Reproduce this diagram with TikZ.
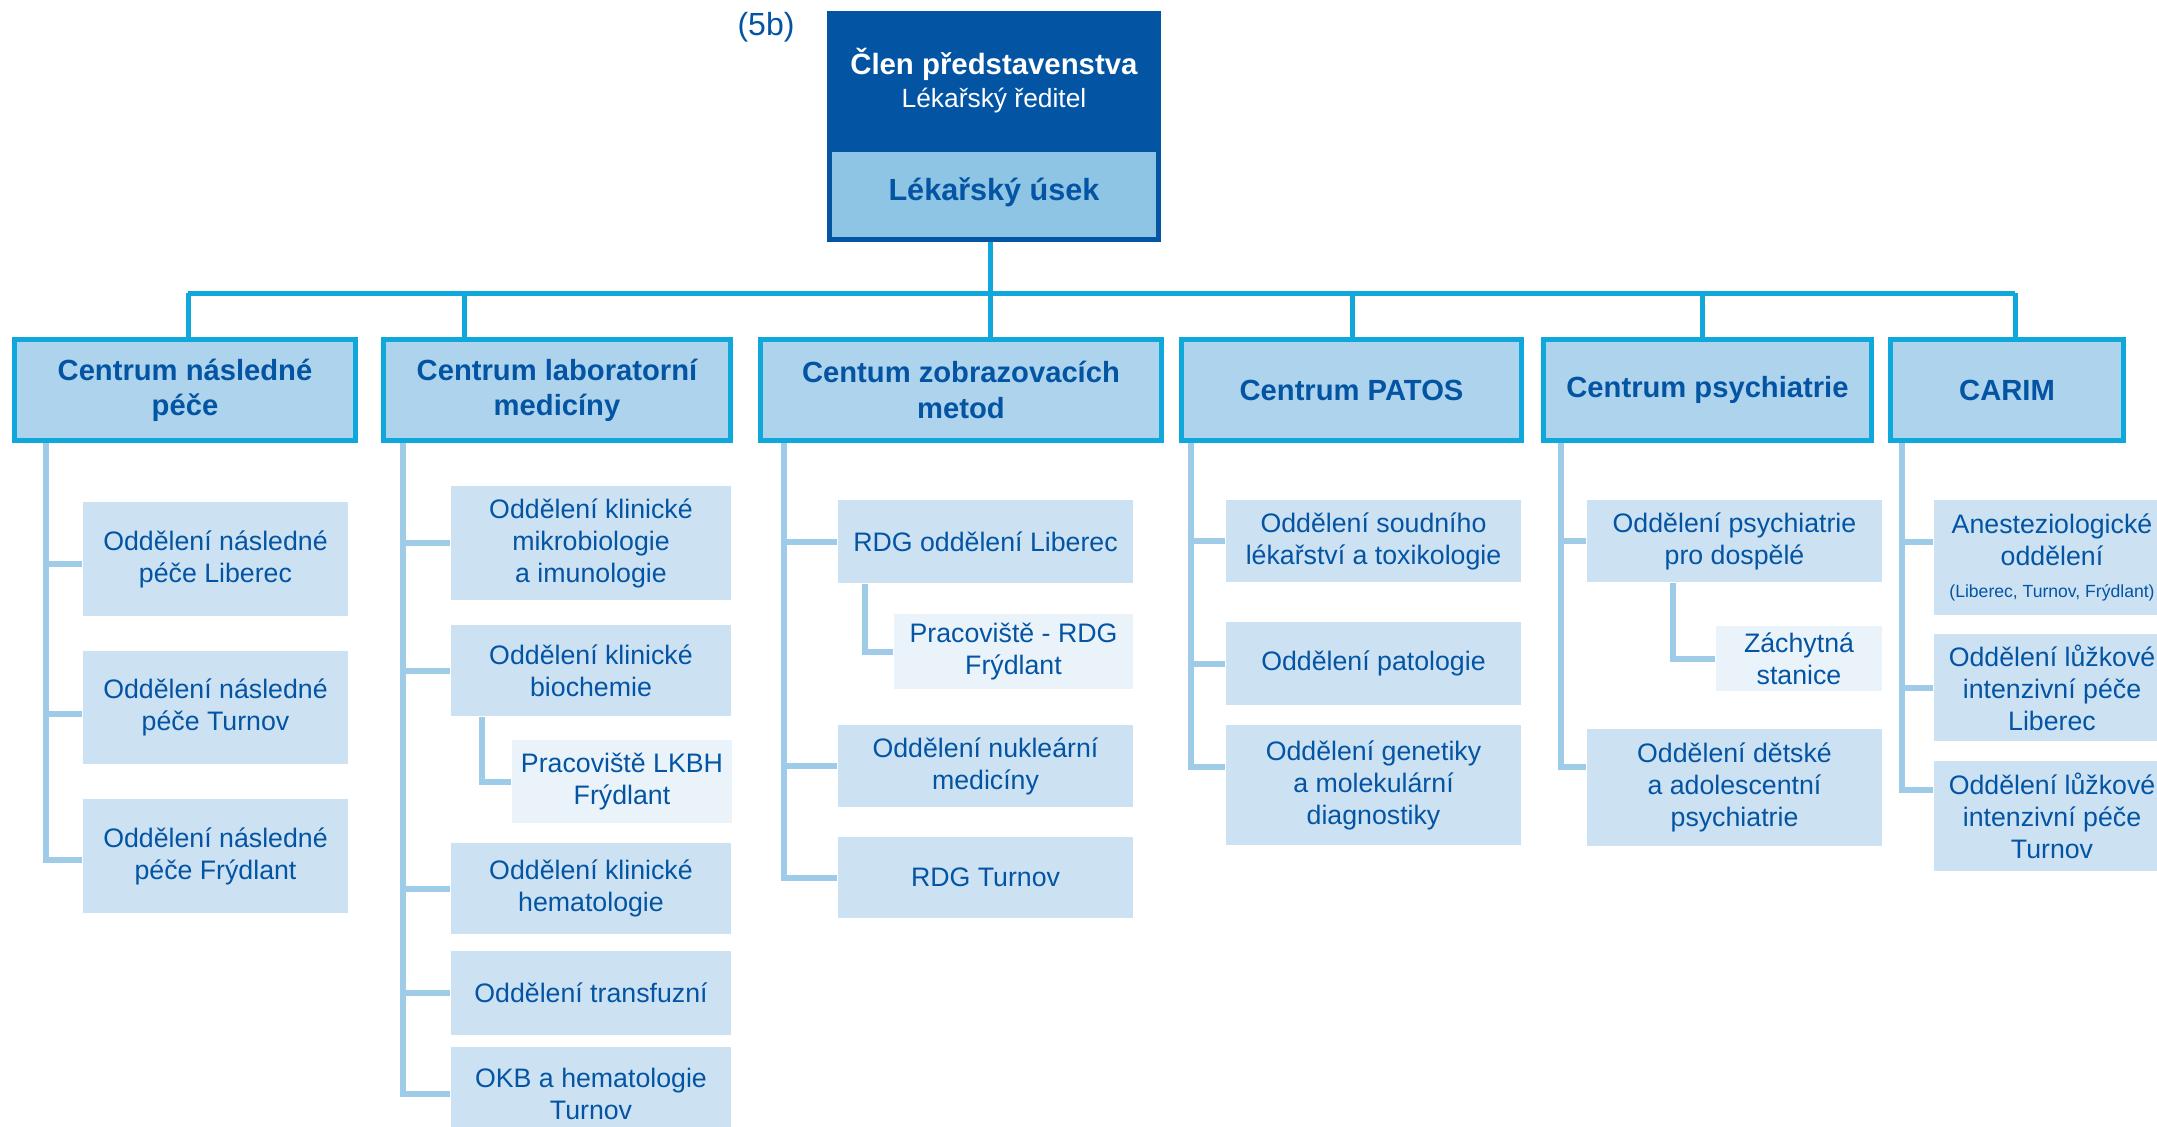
\documentclass[tikz,border=0pt]{standalone}
\usepackage{fontspec}
\setmainfont{Liberation Sans}
\usetikzlibrary{positioning,calc}
\definecolor{lkblue}{RGB}{4,84,164}
\definecolor{lkcyan}{RGB}{16,168,218}
\definecolor{lkhead}{RGB}{173,212,236}
\definecolor{lkusek}{RGB}{142,196,228}
\definecolor{lkdept}{RGB}{204,226,242}
\definecolor{lksub}{RGB}{234,243,250}
\definecolor{lkline}{RGB}{157,203,232}

\begin{document}
\begin{tikzpicture}[x=0.01cm, y=-0.01cm,
    board/.style={fill=lkblue, inner sep=0pt, align=center, text=white, minimum width=3.34cm, minimum height=1.39cm},
    usek/.style={draw=lkblue, line width=0.05cm, fill=lkusek, inner sep=0pt, text=lkblue, font=\fontsize{8.7}{10}\selectfont\bfseries, minimum width=3.29cm, minimum height=0.90cm},
    centre/.style={draw=lkcyan, line width=0.05cm, fill=lkhead, inner sep=0pt, align=center, text=lkblue, font=\fontsize{8.3}{10}\selectfont\bfseries, minimum height=1.01cm},
    dept/.style={fill=lkdept, inner sep=0pt, align=center, text=lkblue, font=\fontsize{7.6}{9.1}\selectfont},
    subdept/.style={dept, fill=lksub},
    bus/.style={draw=lkcyan, line width=0.05cm},
    branch/.style={draw=lkline, line width=0.06cm}
]
\path[use as bounding box, clip] (0,0) rectangle (2157,1126);

% TOP
\node[text=lkblue, font=\fontsize{9.1}{11}\selectfont] (tag) at (766,27) {(5b)};
\node[board, font=\fontsize{8.35}{9.4}\selectfont] (clen) at (994,80.5) {\textbf{Člen představenstva}\\{\fontsize{7.5}{9.4}\selectfont Lékařský ředitel}};
\node[usek] (lus) at (994,194.5) {\raisebox{3pt}{Lékařský úsek}};

% CENTRES
\node[centre, minimum width=3.41cm] (nasl) at (185,390) {Centrum následné\\péče};
\node[centre, minimum width=3.47cm] (lab) at (557,390) {Centrum laboratorní\\medicíny};
\node[centre, minimum width=4.01cm] (zobr) at (961,390) {Centum zobrazovacích\\metod};
\node[centre, minimum width=3.40cm] (patos) at (1351.5,390) {Centrum PATOS};
\node[centre, minimum width=3.28cm] (psy) at (1707.5,390) {Centrum psychiatrie};
\node[centre, minimum width=2.33cm] (carim) at (2007,390) {CARIM};

% bus
\coordinate (b1) at (188,293);
\coordinate (b2) at (464,293);
\coordinate (b3) at (990,293);
\coordinate (b4) at (1352,293);
\coordinate (b5) at (1702,293);
\coordinate (b6) at (2015,293);
\draw[bus] (lus.south -| b3) -- (b3);
\draw[bus] (b1) -- (b6);
\draw[bus] (b1) -- (b1 |- nasl.north);
\draw[bus] (b2) -- (b2 |- lab.north);
\draw[bus] (b3) -- (b3 |- zobr.north);
\draw[bus] (b4) -- (b4 |- patos.north);
\draw[bus] (b5) -- (b5 |- psy.north);
\draw[bus] (b6) -- (b6 |- carim.north);

% NASLEDNA PECE
\node[dept, minimum width=2.65cm, minimum height=1.14cm] (nl) at (215.5,559) {Oddělení následné\\péče Liberec};
\node[dept, minimum width=2.65cm, minimum height=1.13cm] (nt) at (215.5,707.5) {Oddělení následné\\péče Turnov};
\node[dept, minimum width=2.65cm, minimum height=1.14cm] (nf) at (215.5,856) {Oddělení následné\\péče Frýdlant};
\draw[branch] ([xshift=0.34cm]nasl.south west) |- ([yshift=-0.05cm]nl.west);
\draw[branch] ([xshift=0.34cm]nasl.south west) |- ([yshift=-0.06cm]nt.west);
\draw[branch] ([xshift=0.34cm]nasl.south west) |- ([yshift=-0.04cm]nf.west);

% LABORATORNI MEDICINA
\node[dept, minimum width=2.80cm, minimum height=1.14cm] (mik) at (591,543) {Oddělení klinické\\mikrobiologie\\a imunologie};
\node[dept, minimum width=2.80cm, minimum height=0.91cm] (bio) at (591,670.5) {Oddělení klinické\\biochemie};
\node[subdept, minimum width=2.20cm, minimum height=0.83cm] (lkbh) at (622,781.5) {Pracoviště LKBH\\Frýdlant};
\node[dept, minimum width=2.80cm, minimum height=0.91cm] (hem) at (591,888.5) {Oddělení klinické\\hematologie};
\node[dept, minimum width=2.80cm, minimum height=0.84cm] (tra) at (591,993) {Oddělení transfuzní};
\node[dept, minimum width=2.80cm, minimum height=0.93cm] (okb) at (591,1093.5) {OKB a hematologie\\Turnov};
\foreach \d in {mik,bio,hem,tra,okb}
  \draw[branch] ([xshift=0.22cm]lab.south west) |- (\d.west);
\draw[branch] ([xshift=0.32cm]bio.south west) |- (lkbh.west);

% ZOBRAZOVACI METODY
\node[dept, minimum width=2.95cm, minimum height=0.83cm] (rdgl) at (985.5,541.5) {RDG oddělení Liberec};
\node[subdept, minimum width=2.39cm, minimum height=0.75cm] (rdgf) at (1013.5,651.5) {Pracoviště - RDG\\Frýdlant};
\node[dept, minimum width=2.95cm, minimum height=0.82cm] (nuk) at (985.5,766) {Oddělení nukleární\\medicíny};
\node[dept, minimum width=2.95cm, minimum height=0.81cm] (rdgt) at (985.5,877.5) {RDG Turnov};
\foreach \d in {rdgl,nuk,rdgt}
  \draw[branch] ([xshift=0.26cm]zobr.south west) |- (\d.west);
\draw[branch] ([xshift=0.28cm]rdgl.south west) |- (rdgf.west);

% PATOS
\node[dept, minimum width=2.95cm, minimum height=0.82cm] (sou) at (1373.5,541) {Oddělení soudního\\lékařství a toxikologie};
\node[dept, minimum width=2.95cm, minimum height=0.83cm] (pat) at (1373.5,663.5) {Oddělení patologie};
\node[dept, minimum width=2.95cm, minimum height=1.20cm] (gen) at (1373.5,785) {Oddělení genetiky\\a molekulární\\diagnostiky};
\foreach \d in {sou,pat}
  \draw[branch] ([xshift=0.12cm]patos.south west) |- (\d.west);
\draw[branch] ([xshift=0.12cm]patos.south west) |- ([yshift=0.18cm]gen.west);

% PSYCHIATRIE
\node[dept, minimum width=2.95cm, minimum height=0.82cm] (dosp) at (1734.5,541) {Oddělení psychiatrie\\pro dospělé};
\node[subdept, minimum width=1.66cm, minimum height=0.65cm] (zach) at (1799,658.5) {Záchytná\\stanice};
\node[dept, minimum width=2.95cm, minimum height=1.17cm] (det) at (1734.5,787.5) {Oddělení dětské\\a adolescentní\\psychiatrie};
\draw[branch] ([xshift=0.20cm]psy.south west) |- (dosp.west);
\draw[branch] ([xshift=0.20cm]psy.south west) |- ([yshift=0.21cm]det.west);
\draw[branch] ([xshift=0.87cm]dosp.south west) |- (zach.west);

% CARIM
\node[dept, minimum width=2.36cm, minimum height=1.15cm] (ane) at (2052,557.5) {Anesteziologické\\oddělení\\{\fontsize{5}{9.7}\selectfont(Liberec, Turnov, Frýdlant)}};
\node[dept, minimum width=2.36cm, minimum height=1.07cm] (jipl) at (2052,687.5) {Oddělení lůžkové\\intenzivní péče\\Liberec};
\node[dept, minimum width=2.36cm, minimum height=1.10cm] (jipt) at (2052,816) {Oddělení lůžkové\\intenzivní péče\\Turnov};
\draw[branch] ([xshift=0.14cm]carim.south west) |- ([yshift=0.16cm]ane.west);
\draw[branch] ([xshift=0.14cm]carim.south west) |- (jipl.west);
\draw[branch] ([xshift=0.14cm]carim.south west) |- ([yshift=0.26cm]jipt.west);

\end{tikzpicture}
\end{document}
